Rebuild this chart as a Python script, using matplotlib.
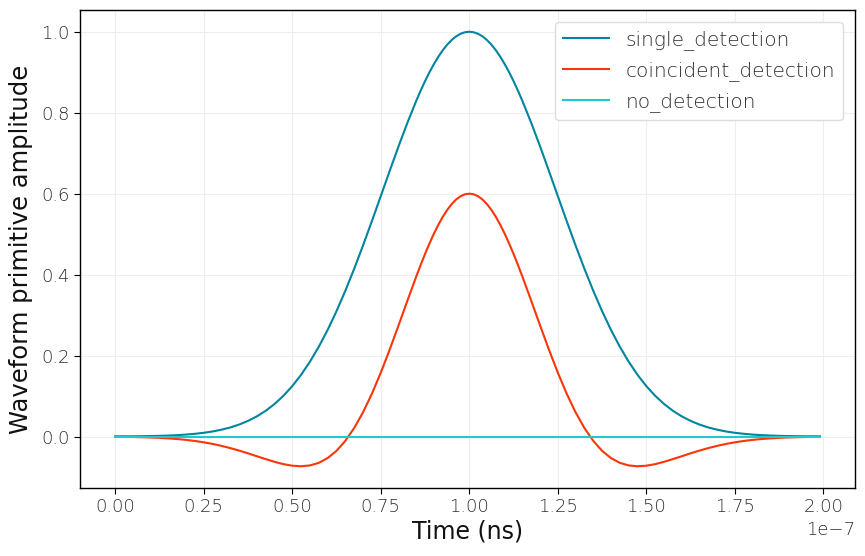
import numpy as np
import matplotlib
matplotlib.use("Agg")
import matplotlib.pyplot as plt

# time samples in ns (plotted in seconds so the axis shows the 1e-7 offset)
time_ns = [0.0, 2.5, 5.0, 7.5, 10.0, 12.5, 15.0, 17.5, 20.0, 22.5,
           25.0, 27.5, 30.0, 32.5, 35.0, 37.5, 40.0, 42.5, 45.0, 47.5,
           50.0, 52.5, 55.0, 57.5, 60.0, 62.5, 65.0, 67.5, 70.0, 72.5,
           75.0, 77.5, 80.0, 82.5,
           85.0, 86.25, 87.5, 88.75, 90.0, 91.25, 92.5, 93.75, 95.0, 96.25, 97.5, 98.75,
           100.0, 101.25, 102.5, 103.75, 105.0, 106.25, 107.5, 108.75, 110.0, 111.25, 112.5, 113.75,
           115.0, 117.5, 120.0, 122.5, 125.0, 127.5, 130.0, 132.5, 135.0, 137.5,
           140.0, 142.5, 145.0, 147.5, 150.0, 152.5, 155.0, 157.5, 160.0, 162.5,
           165.0, 167.5, 170.0, 172.5, 175.0, 177.5, 180.0, 182.5, 185.0, 187.5,
           190.0, 192.5, 195.0, 197.5, 199.0]

single_detection = [0.0002, 0.0004, 0.0005, 0.0008, 0.0012, 0.0017, 0.0024, 0.0034, 0.0048, 0.0067,
                    0.0092, 0.0125, 0.0169, 0.0224, 0.0296, 0.0386, 0.0498, 0.0636, 0.0804, 0.1006,
                    0.1245, 0.1526, 0.1850, 0.2220, 0.2636, 0.3098, 0.3603, 0.4147, 0.4724, 0.5325,
                    0.5940, 0.6558, 0.7165, 0.7747,
                    0.8290, 0.8542, 0.8779, 0.8999, 0.9200, 0.9382, 0.9542, 0.9680, 0.9794, 0.9884, 0.9948, 0.9987,
                    1.0000, 0.9987, 0.9948, 0.9884, 0.9794, 0.9680, 0.9542, 0.9382, 0.9200, 0.8999, 0.8779, 0.8542,
                    0.8290, 0.7747, 0.7165, 0.6558, 0.5940, 0.5325, 0.4724, 0.4147, 0.3603, 0.3098,
                    0.2636, 0.2220, 0.1850, 0.1526, 0.1245, 0.1006, 0.0804, 0.0636, 0.0498, 0.0386,
                    0.0296, 0.0224, 0.0169, 0.0125, 0.0092, 0.0067, 0.0048, 0.0034, 0.0024, 0.0017,
                    0.0012, 0.0008, 0.0005, 0.0004, 0.0003]

coincident_detection = [-0.0005, -0.0008, -0.0012, -0.0017, -0.0024, -0.0033, -0.0046, -0.0062, -0.0083, -0.0110,
                        -0.0143, -0.0183, -0.0231, -0.0286, -0.0348, -0.0415, -0.0487, -0.0558, -0.0625, -0.0682,
                        -0.0721, -0.0735, -0.0714, -0.0650, -0.0532, -0.0353, -0.0106, 0.0212, 0.0601, 0.1059,
                        0.1578, 0.2144, 0.2742, 0.3352,
                        0.3949, 0.4236, 0.4510, 0.4769, 0.5010, 0.5230, 0.5427, 0.5597, 0.5740, 0.5853, 0.5934, 0.5984,
                        0.6000, 0.5984, 0.5934, 0.5853, 0.5740, 0.5597, 0.5427, 0.5230, 0.5010, 0.4769, 0.4510, 0.4236,
                        0.3949, 0.3352, 0.2742, 0.2144, 0.1578, 0.1059, 0.0601, 0.0212, -0.0106, -0.0353,
                        -0.0532, -0.0650, -0.0714, -0.0735, -0.0721, -0.0682, -0.0625, -0.0558, -0.0487, -0.0415,
                        -0.0348, -0.0286, -0.0231, -0.0183, -0.0143, -0.0110, -0.0083, -0.0062, -0.0046, -0.0033,
                        -0.0024, -0.0017, -0.0012, -0.0008, -0.0006]

no_detection = [0.0] * len(time_ns)

series = [("single_detection", single_detection, "#00849f"),
          ("coincident_detection", coincident_detection, "#fa3508"),
          ("no_detection", no_detection, "#1fc9cf")]

plt.rcParams['font.family'] = ['DejaVu Sans']
plt.rcParams['font.weight'] = 'light'
text_color = '#2e2e2e'

fig = plt.figure(figsize=(8.65, 5.56), dpi=100)
ax = fig.add_axes([0.0925, 0.1223, 0.896, 0.8597])

t = np.array(time_ns) * 1e-9
for name, vals, col in series:
    ax.plot(t, vals, color=col, lw=1.5, label=name, solid_joinstyle='round')

ax.grid(True, color='#eeeeee', lw=0.8)
ax.set_axisbelow(True)
ax.set_xticks(np.arange(0, 2.01, 0.25) * 1e-7)
ax.tick_params(labelsize=13, colors=text_color, length=4, color='black')
ax.xaxis.get_offset_text().set_fontsize(13)
ax.xaxis.get_offset_text().set_color(text_color)
ax.set_xlabel('Time (ns)', fontsize=17, color='#111111', labelpad=2)
ax.set_ylabel('Waveform primitive amplitude', fontsize=17.5, color='#111111', labelpad=6)
for sp in ax.spines.values():
    sp.set_linewidth(1.0)
    sp.set_color('black')

leg = ax.legend(loc='upper right', fontsize=14.5, handlelength=2.3, handletextpad=0.8,
                borderpad=0.4, labelspacing=0.55, framealpha=1.0, edgecolor='#dddddd',
                borderaxespad=0.6)
for txt in leg.get_texts():
    txt.set_color(text_color)

fig.savefig('out.png', dpi=100)
